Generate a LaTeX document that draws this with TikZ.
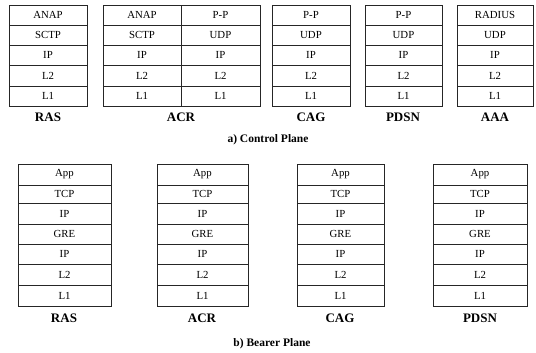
\documentclass[tikz,border=0pt]{standalone}
\usepackage{fontspec}
\setmainfont{Liberation Serif}
\tikzset{
  cell/.style={draw=black!85, line width=0.9pt, rectangle, inner sep=0pt, outer sep=0pt, font=\fontsize{10.8}{12}\selectfont},
  ename/.style={font=\fontsize{13}{14}\selectfont\bfseries, inner sep=0pt},
  caption/.style={font=\fontsize{11.5}{13}\selectfont\bfseries, inner sep=0pt}
}
\newcommand\pstack[4]{%
  \foreach \lab/\ya/\yb [count=\i] in {#4} {
    \node[cell, minimum width={(#3-#2)*1pt}, minimum height={(\yb-\ya)*1pt}] (#1-\i) at ({(#2+#3)/2},{(\ya+\yb)/2}) {\lab};
  }}
\begin{document}
\begin{tikzpicture}[x=1pt,y=-1pt]
\useasboundingbox (0,0) rectangle (536,353);
% control plane
\pstack{cras}{9}{87}{ANAP/5/25,SCTP/25/45,IP/45/65,L2/65/86,L1/86/106}
\pstack{cacrl}{103}{181}{ANAP/5/25,SCTP/25/45,IP/45/65,L2/65/86,L1/86/106}
\pstack{cacrr}{181}{260}{P-P/5/25,UDP/25/45,IP/45/65,L2/65/86,L1/86/106}
\pstack{ccag}{272}{350}{P-P/5/25,UDP/25/45,IP/45/65,L2/65/86,L1/86/106}
\pstack{cpdsn}{365}{442}{P-P/5/25,UDP/25/45,IP/45/65,L2/65/86,L1/86/106}
\pstack{caaa}{457}{533}{RADIUS/5/25,UDP/25/45,IP/45/65,L2/65/86,L1/86/106}
\node[ename] (lcras) at (48,117) {RAS};
\node[ename] (lcacr) at (181,117) {ACR};
\node[ename] (lccag) at (311,117) {CAG};
\node[ename] (lcpdsn) at (403,117) {PDSN};
\node[ename] (lcaaa) at (495,117) {AAA};
\node[caption] (capa) at (268,140) {a) Control Plane};
% bearer plane
\pstack{bras}{18}{111}{App/164/185,TCP/185/203,IP/203/224,GRE/224/244,IP/244/264,L2/264/285,L1/285/306}
\pstack{bacr}{157}{248}{App/164/185,TCP/185/203,IP/203/224,GRE/224/244,IP/244/264,L2/264/285,L1/285/306}
\pstack{bcag}{297}{384}{App/164/185,TCP/185/203,IP/203/224,GRE/224/244,IP/244/264,L2/264/285,L1/285/306}
\pstack{bpdsn}{433}{527}{App/164/185,TCP/185/203,IP/203/224,GRE/224/244,IP/244/264,L2/264/285,L1/285/306}
\node[ename] (lbras) at (64,318) {RAS};
\node[ename] (lbacr) at (202,318) {ACR};
\node[ename] (lbcag) at (340,318) {CAG};
\node[ename] (lbpdsn) at (480,318) {PDSN};
\node[caption] (capb) at (272,344) {b) Bearer Plane};
\end{tikzpicture}
\end{document}
